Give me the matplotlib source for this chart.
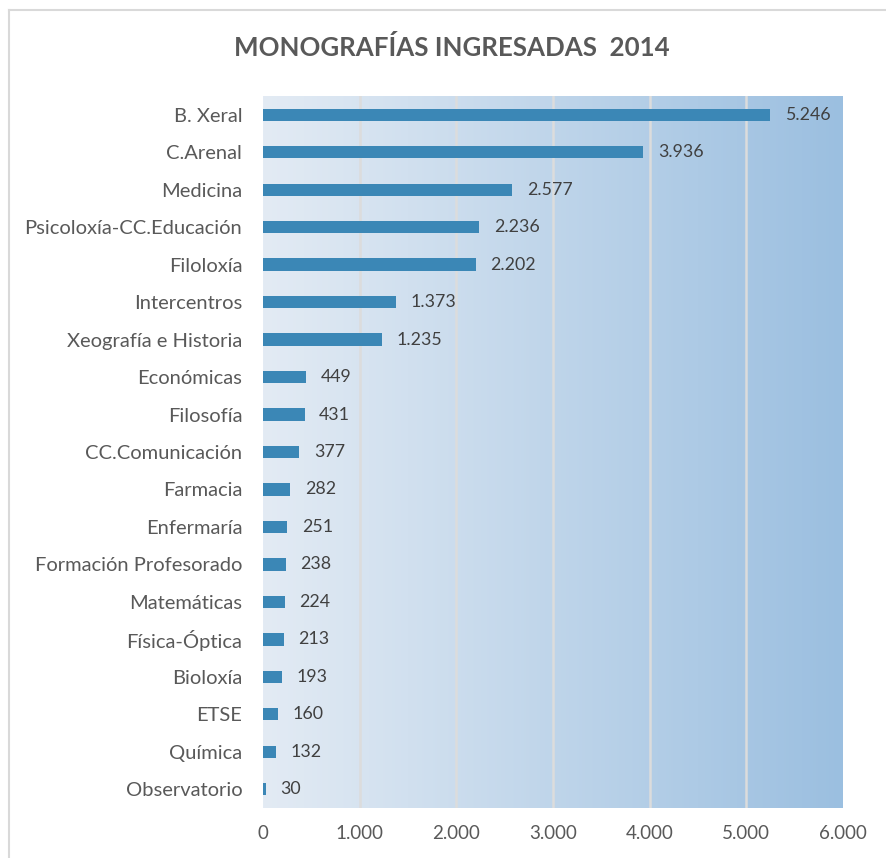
import matplotlib.pyplot as plt
import numpy as np
from matplotlib.colors import LinearSegmentedColormap

categories = ['B. Xeral', 'C.Arenal', 'Medicina', 'Psicoloxía-CC.Educación', 'Filoloxía',
              'Intercentros', 'Xeografía e Historia', 'Económicas', 'Filosofía',
              'CC.Comunicación', 'Farmacia', 'Enfermaría', 'Formación Profesorado',
              'Matemáticas', 'Física-Óptica', 'Bioloxía', 'ETSE', 'Química', 'Observatorio']
values = [5246, 3936, 2577, 2236, 2202, 1373, 1235, 449, 431, 377, 282, 251, 238,
          224, 213, 193, 160, 132, 30]
xticks = [0, 1000, 2000, 3000, 4000, 5000, 6000]


def fmt(v):
    return f'{v:,}'.replace(',', '.')


plt.rcParams['font.family'] = ['Lato', 'DejaVu Sans']

fig = plt.figure(figsize=(8.86, 8.58), dpi=100)
ax = fig.add_axes([263 / 886, 1 - 808 / 858, 580 / 886, 712 / 858])

# gradient background
cmap = LinearSegmentedColormap.from_list('bg', ['#e3ebf4', '#9bbfe0'])
grad = np.linspace(0, 1, 256).reshape(1, -1)
n = len(categories)
ax.imshow(grad, aspect='auto', cmap=cmap, extent=[0, 6000, n - 0.5, -0.5], zorder=0)

for t in xticks[1:-1]:
    ax.axvline(t, color='#dcdcdc', lw=1.8, zorder=1)

y = np.arange(n)
ax.barh(y, values, height=0.33, color='#3b87b6', zorder=2)
for yi, v in zip(y, values):
    ax.text(v + 150, yi, fmt(v), va='center', ha='left', fontsize=12.8, color='#404040', zorder=3)

ax.set_xlim(0, 6000)
ax.set_ylim(n - 0.5, -0.5)
ax.set_yticks(y)
ax.set_yticklabels(categories, fontsize=14.5, color='#595959')
ax.set_xticks(xticks)
ax.set_xticklabels([fmt(t) for t in xticks], fontsize=13.5, color='#595959')
ax.tick_params(length=0, pad=12)
ax.tick_params(axis='y', pad=15)
for s in ax.spines.values():
    s.set_visible(False)

fig.text(452 / 886, 1 - 48 / 858, 'MONOGRAFÍAS INGRESADAS  2014', ha='center', va='center',
         fontsize=18.6, fontweight='bold', color='#595959')

# chart frame
fig.add_artist(plt.Line2D([9 / 886, 9 / 886], [0, 1 - 10 / 858], transform=fig.transFigure,
                          color='#d9d9d9', lw=1.5))
fig.add_artist(plt.Line2D([9 / 886, 1], [1 - 10 / 858, 1 - 10 / 858], transform=fig.transFigure,
                          color='#d9d9d9', lw=1.5))

fig.savefig('out.png', dpi=100)
